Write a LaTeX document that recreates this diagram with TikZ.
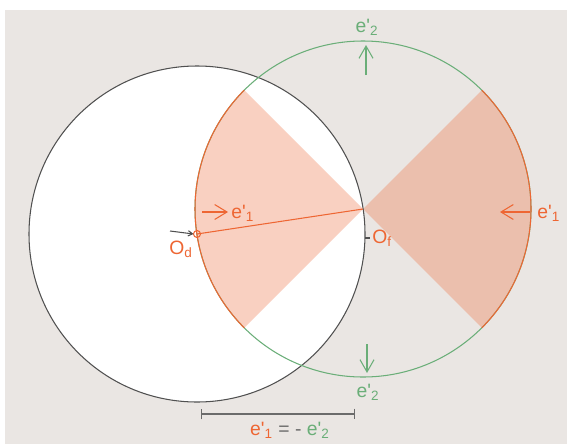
\documentclass[tikz,border=0pt]{standalone}
\usepackage{fontspec}
\setmainfont{Liberation Sans}
\usetikzlibrary{arrows.meta}
\definecolor{bgcol}{HTML}{EAE6E3}
\definecolor{orng}{HTML}{EE6633}
\definecolor{grn}{HTML}{6AAE78}
\definecolor{blk}{HTML}{505050}
\definecolor{barcol}{HTML}{6B6B6B}
\newcommand{\epr}[1]{e\textquotesingle\textsubscript{#1}}
\begin{document}
\begin{tikzpicture}[x=0.02cm,y=0.02cm,
  lbl/.style={font=\fontsize{11}{13}\selectfont, inner sep=0pt},
  orline/.style={draw=orng, line width=0.6pt},
  grline/.style={draw=grn, line width=0.6pt},
  orarrow/.style={orng, line width=0.6pt, -{Straight Barb[length=7pt,width=8.5pt]}},
  grarrow/.style={grn, line width=0.6pt, -{Straight Barb[length=7pt,width=8pt]}},
  sector/.style={fill=orng, fill opacity=0.3}
]
\useasboundingbox (0,0) rectangle (567,444);
\fill[bgcol] (5,0) rectangle (567,434);
\coordinate (Od) at (197,210);
\coordinate (Of) at (363,235);
% white disc of the black circle
\fill[white] (Od) circle[radius=168];
% orange sectors
\fill[sector] (Of) -- ++(-45:168) arc[start angle=-45,end angle=45,radius=168] -- cycle;
\fill[sector] (Of) -- ++(135:168) arc[start angle=135,end angle=225,radius=168] -- cycle;
% circles
\draw[blk, line width=0.6pt] (Od) circle[radius=168];
\draw[grline] (Of) circle[radius=168];
% orange arcs
\draw[orline] (Of) ++(-45:168) arc[start angle=-45,end angle=45,radius=168];
\draw[orline] (Of) ++(135:168) arc[start angle=135,end angle=225,radius=168];
% line Od - Of
\draw[orline] (Od) -- (Of);
\draw[orline] (Od) circle[radius=3.5];
% black pointer to Od
\coordinate (ptr) at (170,213);
\draw[blk, line width=0.6pt, -{Straight Barb[length=2.5pt,width=3pt]}] (ptr) -- ([xshift=-3.5*0.02cm]Od);
% tick near Of
\coordinate (tk1) at (365,206);
\coordinate (tk2) at (370,206);
\draw[blk, line width=0.6pt] (tk1) -- (tk2);
% labels of points
\node[lbl, text=orng] (lod) at (181,195) {O\textsubscript{d}};
\node[lbl, text=orng, anchor=west] (lof) at (372,206) {O\textsubscript{f}};
% e'1 arrows
\coordinate (a1s) at (202,232);
\coordinate (a1e) at (228,232);
\draw[orarrow] (a1s) -- (a1e);
\node[lbl, text=orng, anchor=west] (l1) at (231,231) {\epr{1}};
\coordinate (a2s) at (530,232);
\coordinate (a2e) at (500,232);
\draw[orarrow] (a2s) -- (a2e);
\node[lbl, text=orng, anchor=west] (l2) at (537,231) {\epr{1}};
% e'2 arrows
\coordinate (b1s) at (366,369);
\coordinate (b1e) at (366,399);
\draw[grarrow] (b1s) -- (b1e);
\node[lbl, text=grn] (l3) at (367,417) {\epr{2}};
\coordinate (b2s) at (367,100);
\coordinate (b2e) at (367,71);
\draw[grarrow] (b2s) -- (b2e);
\node[lbl, text=grn] (l4) at (368,52) {\epr{2}};
% scale bar
\coordinate (s1) at (201,30);
\coordinate (s2) at (355,30);
\draw[barcol, line width=0.8pt, {Bar[width=6pt]}-{Bar[width=6pt]}] (s1) -- (s2);
\node[lbl] (eq) at (290,14) {\textcolor{orng}{\epr{1}} \textcolor{barcol}{= -} \textcolor{grn}{\epr{2}}};
\end{tikzpicture}
\end{document}
